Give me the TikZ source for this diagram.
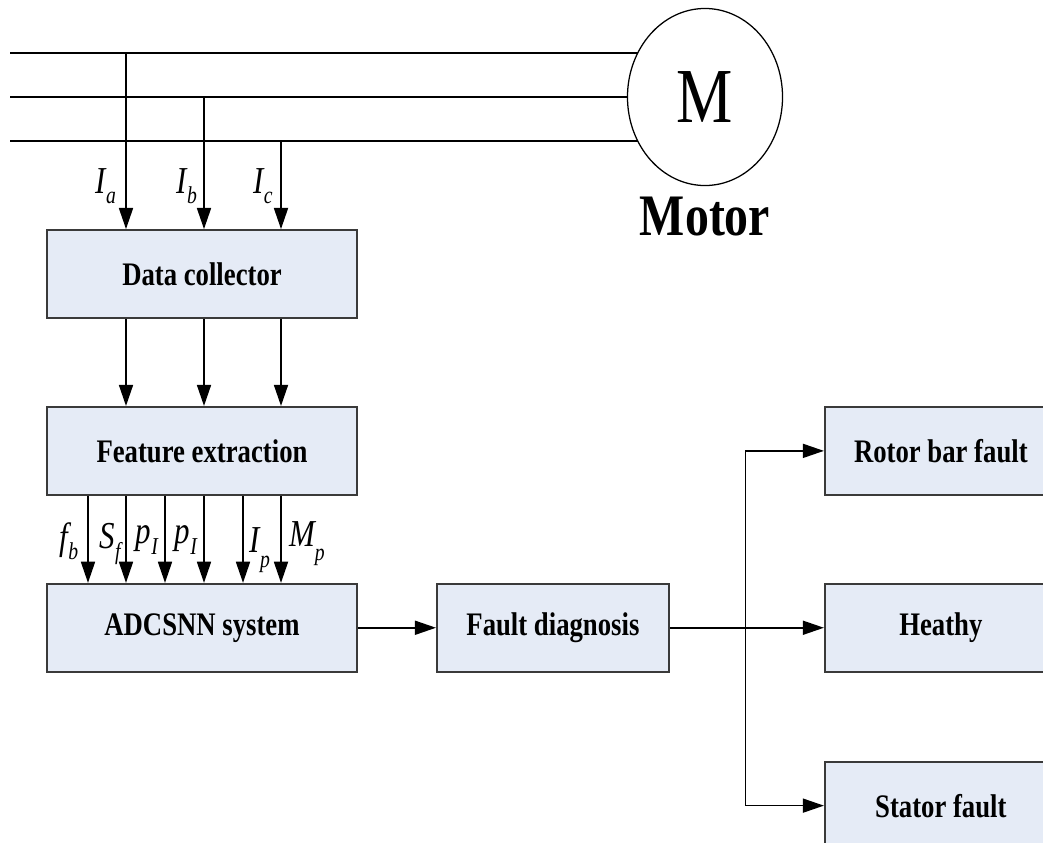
\documentclass[tikz,border=0pt]{standalone}
\usepackage{fontspec}
\setmainfont{Liberation Serif}
\usepackage{graphicx}
\usepackage{tikz}
\usetikzlibrary{arrows.meta,positioning,shapes.geometric,backgrounds,calc}
\definecolor{boxfill}{HTML}{E5EBF6}
\definecolor{boxline}{HTML}{3A3A3A}
\newcommand{\tall}[1]{\scalebox{1}[1.23]{#1}}
\newcommand{\sg}[2]{\tall{\itshape #1\raisebox{-6pt}{\fontsize{14}{14}\selectfont #2}}}

\begin{document}
\begin{tikzpicture}[x=0.025cm,y=-0.025cm,>={Triangle[length=15pt,width=10pt]}]
        \tikzstyle{block} = [draw=boxline, fill=boxfill, line width=1.3pt, minimum width=7.75cm, minimum height=2.2cm, font=\fontsize{19}{22}\selectfont\bfseries]
        \tikzstyle{outbox} = [block, minimum width=5.8cm]
        \tikzstyle{sig} = [inner sep=0pt, font=\fontsize{22}{26}\selectfont]
        \tikzstyle{wire} = [line width=1.1pt]
        \useasboundingbox (0,0) rectangle (1043,842);
        \clip (0,0) rectangle (1043,842);

        \node[ellipse, draw, fill=white, line width=0.9pt, minimum width=3.875cm, minimum height=4.425cm, font=\fontsize{45}{50}\selectfont] (motor) at (705,97) {\tall{M}};
        \node[font=\fontsize{34}{40}\selectfont\bfseries, below=0.15cm of motor] (mlabel) {\tall{Motor}};

        \node[block] (dc) at (202,274) {\tall{Data collector}};
        \node[block, below=2.175cm of dc] (fe) {\tall{Feature extraction}};
        \node[block, below=2.175cm of fe] (adc) {\tall{ADCSNN system}};
        \node[outbox, right=1.95cm of adc] (fd) {\tall{Fault diagnosis}};
        \node[outbox, right=3.85cm of fd] (heathy) {\tall{Heathy}};
        \node[outbox, above=2.175cm of heathy] (rotor) {\tall{Rotor bar fault}};
        \node[outbox, below=2.2cm of heathy] (stator) {\tall{Stator fault}};

        \coordinate (pa) at (10,53);
        \coordinate (pb) at (10,97);
        \coordinate (pc) at (10,141);
        \coordinate (ja) at (126,53);
        \coordinate (jb) at (204,97);
        \coordinate (jc) at (281,141);
        \begin{pgfonlayer}{background}
        \foreach \p in {pa,pb,pc}
            \draw[wire] (\p) -- (\p -| motor.center);
        \end{pgfonlayer}

        \foreach \j in {ja,jb,jc} {
            \draw[wire,->] (\j) -- (\j |- dc.north);
            \draw[wire,->] (\j |- dc.south) -- (\j |- fe.north);
        }
        \foreach \x in {88,126,165,204,243,281}
            \draw[wire,->] (\x,0 |- fe.south) -- (\x,0 |- adc.north);

        \node[sig] (lia) at (106,186) {\sg{I}{a}};
        \node[sig] (lib) at (187,186) {\sg{I}{b}};
        \node[sig] (lic) at (263,186) {\sg{I}{c}};
        \node[sig] (lfb) at (69,541) {\sg{f}{b}};
        \node[sig] (lsf) at (110,544) {\sg{S}{f}};
        \node[sig] (lpa) at (147,540) {\sg{p}{I}};
        \node[sig] (lpb) at (186,540) {\sg{p}{I}};
        \node[sig] (lip) at (260,550) {\sg{I}{\raisebox{-3pt}{p}}};
        \node[sig] (lmp) at (307,544) {\sg{M}{\raisebox{-2pt}{p}}};

        \coordinate (br) at ($(fd.east)!0.49!(heathy.west)$);
        \draw[wire,->] (adc) -- (fd);
        \draw[wire,->] (fd) -- (heathy);
        \draw[wire,->] (br) |- (rotor);
        \draw[wire,->] (br) |- (stator);
\end{tikzpicture}
\end{document}
